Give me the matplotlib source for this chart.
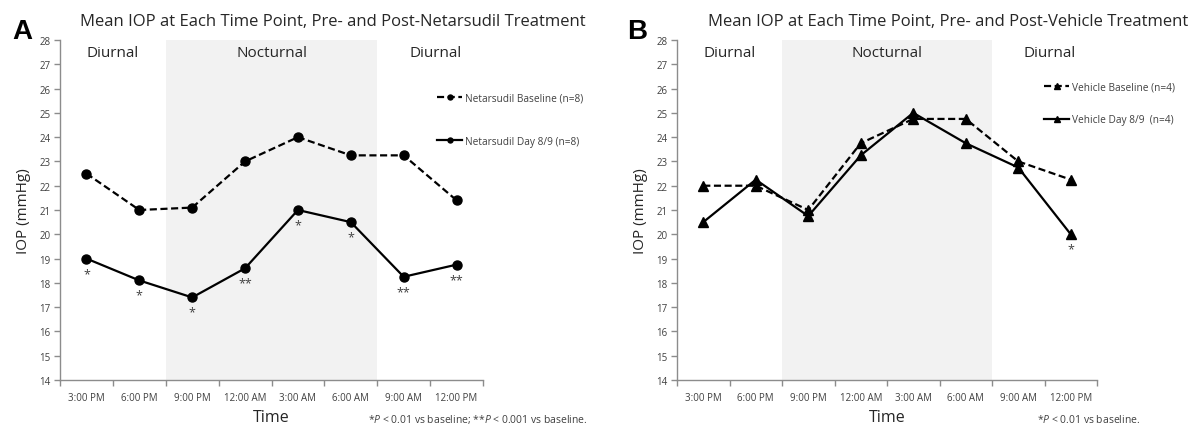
import numpy as np
import matplotlib.pyplot as plt

plt.rcParams['font.family'] = ['Open Sans', 'DejaVu Sans']
plt.rcParams['mathtext.fontset'] = 'custom'
plt.rcParams['mathtext.it'] = 'Open Sans:italic'
plt.rcParams['mathtext.rm'] = 'Open Sans'

# data
times = ['3:00 PM', '6:00 PM', '9:00 PM', '12:00 AM', '3:00 AM', '6:00 AM', '9:00 AM', '12:00 PM']
net_base = [22.5, 21.0, 21.1, 23.0, 24.0, 23.25, 23.25, 21.4]
net_day = [19.0, 18.1, 17.4, 18.6, 21.0, 20.5, 18.25, 18.75]
net_stars = ['*', '*', '*', '**', '*', '*', '**', '**']
veh_base = [22.0, 22.0, 21.0, 23.75, 24.75, 24.75, 23.0, 22.25]
veh_day = [20.5, 22.25, 20.75, 23.25, 25.0, 23.75, 22.75, 20.0]
veh_stars = ['', '', '', '', '', '', '', '*']

W, H = 1204, 427
fig = plt.figure(figsize=(W / 100, H / 100), dpi=100)

axcol = '#8c8c8c'
txtcol = '#404040'


def px(x0, y0, x1, y1):
    return [x0 / W, 1 - y1 / H, (x1 - x0) / W, (y1 - y0) / H]


def panel(rect, base, day, stars, marker, ms, labels, leg_pos):
    ax = fig.add_axes(rect)
    x = np.arange(len(times))
    ax.axvspan(1.5, 5.5, color='#f2f2f2', zorder=0, lw=0)
    l1, = ax.plot(x, base, color='black', lw=1.6, ls=(0, (3.2, 1.6)),
                  marker=marker, ms=ms, zorder=3)
    l2, = ax.plot(x, day, color='black', lw=1.6, marker=marker, ms=ms, zorder=3)
    for xi, yi, s in zip(x, day, stars):
        if s:
            ax.annotate(s, (xi, yi), xytext=(0, -6), textcoords='offset points',
                        ha='center', va='top', fontsize=9, color=txtcol)
    ax.set_xlim(-0.5, 7.5)
    ax.set_ylim(14, 28)
    ax.set_yticks(range(14, 29))
    ax.set_xticks(x)
    ax.set_xticklabels(times)
    ax.set_xticks(np.arange(-0.5, 8, 1), minor=True)
    ax.tick_params(axis='x', which='major', length=0, labelsize=7, colors=txtcol, pad=9)
    ax.tick_params(axis='x', which='minor', length=4, color=axcol, width=1)
    ax.tick_params(axis='y', length=4, color=axcol, width=1, labelsize=7,
                   labelcolor=txtcol, pad=3)
    for s in ['top', 'right']:
        ax.spines[s].set_visible(False)
    for s in ['left', 'bottom']:
        ax.spines[s].set_color(axcol)
        ax.spines[s].set_linewidth(1)
    ax.text(0.5, 27.5, 'Diurnal', ha='center', va='center', fontsize=11, color='#262626')
    ax.text(3.5, 27.5, 'Nocturnal', ha='center', va='center', fontsize=11, color='#262626')
    ax.text(6.6, 27.5, 'Diurnal', ha='center', va='center', fontsize=11, color='#262626')
    ax.set_ylabel('IOP (mmHg)', fontsize=11, color='#262626', labelpad=6)
    ax.set_xlabel('Time', fontsize=11.5, color='#262626', labelpad=4)
    for i, (line, lab, pos) in enumerate(zip([l1, l2], labels, leg_pos)):
        lg = ax.legend([line], [lab], loc='center left', bbox_to_anchor=pos,
                       frameon=False, fontsize=7.3, handlelength=2.5, markerscale=0.55,
                       handletextpad=0.3, borderaxespad=0, borderpad=0)
        for t in lg.get_texts():
            t.set_color(txtcol)
        if i == 0:
            ax.add_artist(lg)
    return ax


axA = panel(px(60, 41, 483, 381), net_base, net_day, net_stars, 'o', 6.5,
            ['Netarsudil Baseline (n=8)', 'Netarsudil Day 8/9 (n=8)'],
            [(0.891, 1 - (99 - 41) / 340), (0.891, 1 - (142 - 41) / 340)])
axB = panel(px(677, 41, 1097, 381), veh_base, veh_day, veh_stars, '^', 7,
            ['Vehicle Baseline (n=4)', 'Vehicle Day 8/9  (n=4)'],
            [(0.874, 1 - (88 - 41) / 340), (0.874, 1 - (121 - 41) / 340)])

fig.text(333 / W, 1 - 22 / H, 'Mean IOP at Each Time Point, Pre- and Post-Netarsudil Treatment',
         ha='center', va='center', fontsize=12, color='#262626')
fig.text(948 / W, 1 - 22 / H, 'Mean IOP at Each Time Point, Pre- and Post-Vehicle Treatment',
         ha='center', va='center', fontsize=12, color='#262626')
fig.text(12 / W, 1 - 32 / H, 'A', ha='left', va='center', fontsize=20, fontweight='bold',
         family='Liberation Sans')
fig.text(627 / W, 1 - 32 / H, 'B', ha='left', va='center', fontsize=20, fontweight='bold',
         family='Liberation Sans')
fig.text(588 / W, 1 - 420 / H, r'*$\it{P}$ < 0.01 vs baseline; **$\it{P}$ < 0.001 vs baseline.',
         ha='right', va='center', fontsize=7.5, color=txtcol)
fig.text(1037 / W, 1 - 420 / H, r'*$\it{P}$ < 0.01 vs baseline.',
         ha='left', va='center', fontsize=7.5, color=txtcol)

fig.savefig('out.png', dpi=100)
